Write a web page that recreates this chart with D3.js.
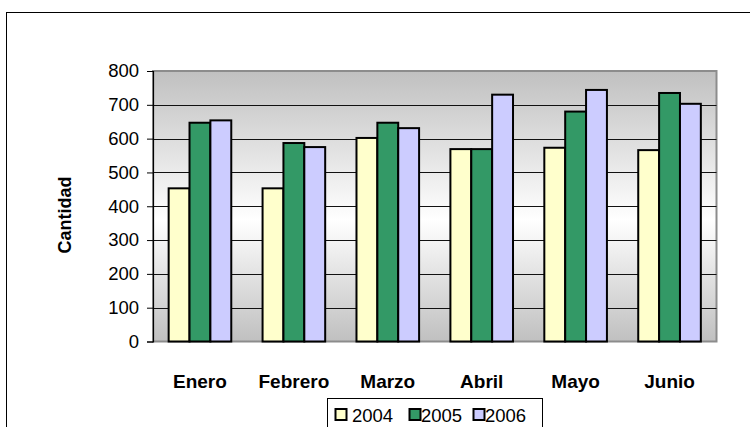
<!DOCTYPE html>
<html>
<head>
<meta charset="utf-8">
<script src="https://cdn.jsdelivr.net/npm/d3@7"></script>
<style>
  body { margin: 0; background: #fff; }
  svg { display: block; font-family: "Liberation Sans", Arial, sans-serif; }
</style>
</head>
<body>
<svg id="chart" width="750" height="427"></svg>
<script>
const categories = ["Enero", "Febrero", "Marzo", "Abril", "Mayo", "Junio"];
const seriesNames = ["2004", "2005", "2006"];
const values2004 = [453, 453, 602, 569, 573, 566];
const values2005 = [647, 587, 647, 569, 680, 735];
const values2006 = [654, 575, 631, 730, 744, 703];
const yTicks = [0, 100, 200, 300, 400, 500, 600, 700, 800];
const yTitle = "Cantidad";
const colors = ["#FFFFCC", "#339966", "#CCCCFF"];

const seriesValues = [values2004, values2005, values2006];
const svg = d3.select("#chart");

const plot = { left: 153, right: 716.5, top: 71, bottom: 341.5 };

// outer chart border
svg.append("rect").attr("x", 6.5).attr("y", 12.5).attr("width", 800).attr("height", 500)
  .attr("fill", "#fff").attr("stroke", "#000").attr("stroke-width", 1);

const defs = svg.append("defs");
const grad = defs.append("linearGradient").attr("id", "bg").attr("x1", 0).attr("y1", 0).attr("x2", 0).attr("y2", 1);
grad.append("stop").attr("offset", "0%").attr("stop-color", "#c0c0c0");
grad.append("stop").attr("offset", "55%").attr("stop-color", "#ffffff");
grad.append("stop").attr("offset", "100%").attr("stop-color", "#c0c0c0");

const x = d3.scaleBand().domain(categories).range([plot.left, plot.right])
  .paddingInner(1/3).paddingOuter(1/6);
const xs = d3.scaleBand().domain(seriesNames).range([0, x.bandwidth()]);
const y = d3.scaleLinear().domain([0, 800]).range([plot.bottom, plot.top]);

// plot area
svg.append("rect").attr("x", plot.left).attr("y", plot.top)
  .attr("width", plot.right - plot.left).attr("height", plot.bottom - plot.top)
  .attr("fill", "url(#bg)").attr("stroke", "#8c8c8c").attr("stroke-width", 2);

// gridlines
svg.append("g").selectAll("line").data(yTicks.filter(t => t > 0 && t < 800)).join("line")
  .attr("x1", plot.left).attr("x2", plot.right)
  .attr("y1", d => Math.round(y(d)) + 0.5).attr("y2", d => Math.round(y(d)) + 0.5)
  .attr("stroke", "#111").attr("stroke-width", 1);

// bars
const groups = svg.append("g").selectAll("g").data(categories).join("g")
  .attr("transform", d => `translate(${x(d)},0)`);
groups.selectAll("rect").data((c, i) => seriesNames.map((s, k) => ({ s, k, v: seriesValues[k][i] })))
  .join("rect")
  .attr("x", d => xs(d.s)).attr("width", xs.bandwidth())
  .attr("y", d => y(d.v)).attr("height", d => y(0) - y(d.v))
  .attr("fill", d => colors[d.k]).attr("stroke", "#000").attr("stroke-width", 2);

// y axis
const yAxis = d3.axisLeft(y).tickValues(yTicks).tickSize(6).tickPadding(8).tickFormat(d3.format("d"));
const ya = svg.append("g").attr("transform", `translate(${plot.left},0)`).call(yAxis);
ya.select(".domain").attr("stroke", "#000").attr("stroke-width", 1.2);
ya.selectAll(".tick line").attr("stroke", "#000");
ya.selectAll(".tick text").attr("font-size", 18.5).attr("font-family", "'Liberation Sans', Arial, sans-serif").attr("fill", "#000");

// x category labels
svg.append("g").selectAll("text").data(categories).join("text")
  .attr("x", d => x(d) + x.bandwidth() / 2).attr("y", 387.5)
  .attr("text-anchor", "middle").attr("font-size", 19).attr("font-weight", "bold")
  .text(d => d);

// y title
svg.append("text").attr("transform", "translate(71,215) rotate(-90)")
  .attr("text-anchor", "middle").attr("font-size", 18).attr("font-weight", "bold").text(yTitle);

// legend
const lg = svg.append("g");
lg.append("rect").attr("x", 327.5).attr("y", 398.5).attr("width", 215).attr("height", 40)
  .attr("fill", "#fff").attr("stroke", "#000").attr("stroke-width", 1);
const legX = [335, 409, 473];
const items = lg.selectAll("g").data(seriesNames).join("g")
  .attr("transform", (d, i) => `translate(${legX[i]},0)`);
items.append("rect").attr("x", 0.5).attr("y", 409).attr("width", 11).attr("height", 11)
  .attr("fill", (d, i) => colors[i]).attr("stroke", "#000").attr("stroke-width", 2);
items.append("text").attr("x", (d, i) => i === 0 ? 17 : 12).attr("y", 421.5)
  .attr("font-size", 18.5).text(d => d);
</script>
</body>
</html>
